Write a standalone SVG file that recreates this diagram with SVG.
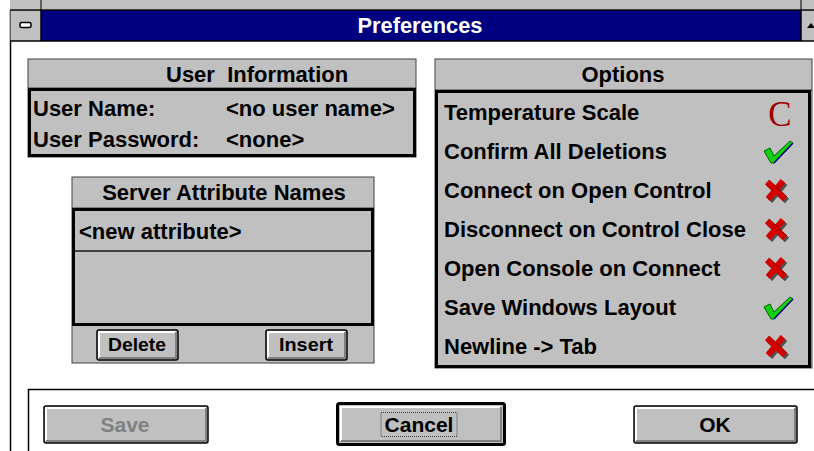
<svg xmlns="http://www.w3.org/2000/svg" width="814" height="451" viewBox="0 0 814 451">
  <style>
    .lbl { font-family: "Liberation Sans", Arial, sans-serif; font-weight: bold; font-size: 22px; fill: #000; }
    .btn { font-family: "Liberation Sans", Arial, sans-serif; font-weight: bold; font-size: 21px; fill: #000; text-anchor: middle; }
    .sbtn { font-family: "Liberation Sans", Arial, sans-serif; font-weight: bold; font-size: 18px; fill: #000; text-anchor: middle; }
    .panel { fill: #c0c0c0; stroke: #404040; stroke-width: 1; }
    .well { fill: none; stroke: #000; stroke-width: 3; }
    .face { fill: #c0c0c0; stroke: #000; stroke-width: 1.5; }
    .hi { fill: none; stroke: #fff; stroke-width: 2; }
    .sh { fill: none; stroke: #808080; stroke-width: 2; }
    .xshadow { stroke: #505050; stroke-width: 6; stroke-linecap: butt; fill: none; }
    .xred { stroke: #d40000; stroke-width: 6; stroke-linecap: butt; fill: none; }
  </style>
  <defs>
    <g id="xmark">
      <path class="xshadow" d="M-8,-7 L10,10 M8,-8 L-7,10"/>
      <path class="xred" d="M-10,-9 L8,8 M6,-10 L-9,8"/>
      <path d="M-10,-9 L8,8" stroke="#8a0000" stroke-width="1" fill="none" transform="translate(2,-2)"/>
    </g>
    <g id="check">
      <path d="M-14,-1 L-8,-4 L-4,4 L12,-11 L15,-9 L-4,11 L-7,11 Z" fill="#10d010" stroke="#006000" stroke-width="1"/>
      <path d="M-4,11 L15,-9" stroke="#000080" stroke-width="1.5" fill="none"/>
    </g>
  </defs>

  <rect x="0" y="0" width="814" height="451" fill="#fff"/>

  <!-- window frame and caption -->
  <g id="window">
    <rect x="10" y="0" width="804" height="9" fill="#c0c0c0"/>
    <line x1="41" y1="0" x2="41" y2="10" stroke="#404040" stroke-width="1.5"/>
    <line x1="801" y1="0" x2="801" y2="10" stroke="#404040" stroke-width="1.5"/>
    <line x1="10.5" y1="10" x2="10.5" y2="451" stroke="#000" stroke-width="1.5"/>
    <rect x="41" y="10" width="760" height="31" fill="#000080"/>
    <rect x="10.5" y="10" width="30.5" height="31" fill="#c0c0c0"/>
    <rect x="801" y="10" width="13" height="31" fill="#c0c0c0"/>
    <line x1="10" y1="10" x2="814" y2="10" stroke="#000" stroke-width="1.5"/>
    <line x1="10" y1="41" x2="814" y2="41" stroke="#000" stroke-width="1.5"/>
    <line x1="41" y1="10" x2="41" y2="41" stroke="#000" stroke-width="1.5"/>
    <line x1="801" y1="10" x2="801" y2="41" stroke="#000" stroke-width="1.5"/>
    <rect x="20" y="22.5" width="11" height="5" rx="1.5" fill="#fff" stroke="#000" stroke-width="1.5"/>
    <path d="M811,23 L815,28 L807,28 Z" fill="#000"/>
    <text x="420" y="33" text-anchor="middle" font-family="'Liberation Sans', Arial, sans-serif" font-weight="bold" font-size="22" fill="#fff" textLength="125" lengthAdjust="spacingAndGlyphs">Preferences</text>
  </g>

  <!-- user information panel -->
  <g id="user-info">
    <rect class="panel" x="28" y="59" width="388" height="98"/>
    <line x1="28" y1="88" x2="416" y2="88" stroke="#404040" stroke-width="1"/>
    <rect class="well" x="29.5" y="89.5" width="385" height="66"/>
    <text class="lbl" x="166" y="82" xml:space="preserve">User  Information</text>
    <text class="lbl" x="33" y="116">User Name:</text>
    <text class="lbl" x="226" y="116">&lt;no user name&gt;</text>
    <text class="lbl" x="33" y="147">User Password:</text>
    <text class="lbl" x="226" y="147">&lt;none&gt;</text>
  </g>

  <!-- server attribute names panel -->
  <g id="server-attrs">
    <rect class="panel" x="72" y="177" width="302" height="186"/>
    <line x1="72" y1="208" x2="374" y2="208" stroke="#404040" stroke-width="1"/>
    <rect class="well" x="73.5" y="209.5" width="299" height="115"/>
    <line x1="75" y1="251" x2="371" y2="251" stroke="#404040" stroke-width="2"/>
    <text class="lbl" x="224" y="200" text-anchor="middle">Server Attribute Names</text>
    <text class="lbl" x="79" y="239">&lt;new attribute&gt;</text>
  </g>

  <g id="btn-delete">
    <rect class="face" x="97" y="330" width="81" height="30" rx="2"/>
    <path class="hi" d="M99,358 L99,332 L176,332"/>
    <path class="sh" d="M99,358 L176,358 L176,332"/>
    <text class="sbtn" x="137" y="351" textLength="58" lengthAdjust="spacingAndGlyphs">Delete</text>
  </g>
  <g id="btn-insert">
    <rect class="face" x="266" y="330" width="81" height="30" rx="2"/>
    <path class="hi" d="M268,358 L268,332 L345,332"/>
    <path class="sh" d="M268,358 L345,358 L345,332"/>
    <text class="sbtn" x="306" y="351" textLength="54" lengthAdjust="spacingAndGlyphs">Insert</text>
  </g>

  <!-- options panel -->
  <g id="options">
    <rect class="panel" x="435" y="59" width="377" height="309"/>
    <line x1="435" y1="90" x2="812" y2="90" stroke="#404040" stroke-width="1"/>
    <rect class="well" x="436.5" y="91.5" width="373" height="275"/>
    <text class="lbl" x="623" y="82" text-anchor="middle">Options</text>
    <text class="lbl" x="444" y="120">Temperature Scale</text>
    <text class="lbl" x="444" y="159">Confirm All Deletions</text>
    <text class="lbl" x="444" y="198">Connect on Open Control</text>
    <text class="lbl" x="444" y="237">Disconnect on Control Close</text>
    <text class="lbl" x="444" y="276">Open Console on Connect</text>
    <text class="lbl" x="444" y="315">Save Windows Layout</text>
    <text class="lbl" x="444" y="354">Newline -&gt; Tab</text>
    <text x="780" y="126" text-anchor="middle" font-family="'Liberation Serif', 'Times New Roman', serif" font-size="35" fill="#a00000">C</text>
    <use href="#check" x="778" y="152"/>
    <use href="#xmark" x="777" y="191"/>
    <use href="#xmark" x="777" y="230"/>
    <use href="#xmark" x="777" y="269"/>
    <use href="#check" x="778" y="308"/>
    <use href="#xmark" x="777" y="347"/>
  </g>

  <!-- dialog button bar -->
  <g id="button-bar">
    <path d="M28.5,451 L28.5,389.5 L814,389.5" fill="none" stroke="#000" stroke-width="1.5"/>
  </g>

  <g id="btn-save">
    <rect class="face" x="44" y="406" width="164" height="37" rx="2"/>
    <path class="hi" d="M46,441 L46,408 L206,408"/>
    <path class="sh" d="M46,441 L206,441 L206,408"/>
    <text class="btn" x="125" y="432" style="fill:#808080">Save</text>
  </g>
  <g id="btn-cancel">
    <rect x="337.5" y="403.5" width="167" height="41" rx="2" fill="#c0c0c0" stroke="#000" stroke-width="3"/>
    <path class="hi" d="M341,441 L341,407 L501,407"/>
    <path class="sh" d="M341,441 L501,441 L501,407"/>
    <rect x="381" y="412.5" width="76" height="24" fill="none" stroke="#404040" stroke-width="1" stroke-dasharray="1,1"/>
    <text class="btn" x="419" y="432">Cancel</text>
  </g>
  <g id="btn-ok">
    <rect class="face" x="634" y="406" width="163" height="37" rx="2"/>
    <path class="hi" d="M636,441 L636,408 L795,408"/>
    <path class="sh" d="M636,441 L795,441 L795,408"/>
    <text class="btn" x="715" y="432">OK</text>
  </g>
</svg>
